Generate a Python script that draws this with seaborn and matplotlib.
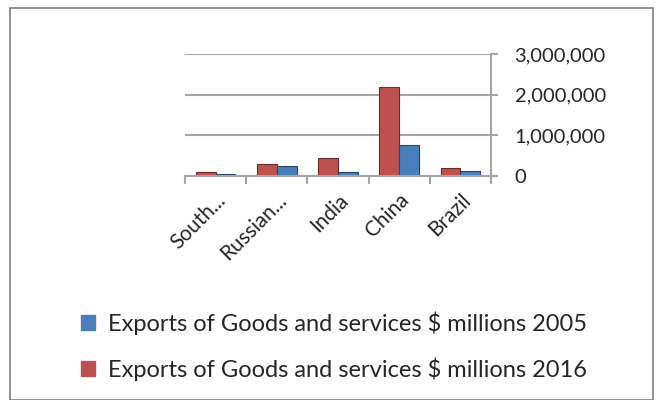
import matplotlib
matplotlib.use("Agg")
import matplotlib.pyplot as plt
import seaborn as sns
import pandas as pd
from matplotlib.patches import Patch, Rectangle
from matplotlib.ticker import FuncFormatter

countries = ["South...", "Russian...", "India", "China", "Brazil"]
exports_2005 = [52000, 243000, 100000, 762000, 118000]
exports_2016 = [90000, 285000, 436000, 2200000, 190000]
series_labels = ["Exports of Goods and services $ millions 2005",
                 "Exports of Goods and services $ millions 2016"]
yticks = [0, 1000000, 2000000, 3000000]

df = pd.DataFrame({
    "country": countries * 2,
    "value": exports_2016 + exports_2005,
    "series": [series_labels[1]] * 5 + [series_labels[0]] * 5,
})

sns.set_theme(style="white")
plt.rcParams["font.family"] = ["Lato", "DejaVu Sans"]

blue = "#4a7ebb"
red = "#c0504d"

fig = plt.figure(figsize=(6.61, 4.0), dpi=100)
ax = fig.add_axes([185/661, 1-176/400, 306/661, 122/400])

sns.barplot(data=df, x="country", y="value", hue="series",
            hue_order=[series_labels[1], series_labels[0]],
            palette=[red, blue], order=countries, width=0.65,
            saturation=1, ax=ax, legend=False)
for p in ax.patches:
    fc = p.get_facecolor()
    p.set_edgecolor(tuple(c * 0.55 for c in fc[:3]) + (1,))
    p.set_linewidth(0.8)

ax.set_xlim(-0.5, 4.5)
ax.set_ylim(0, 3000000)
ax.set_yticks(yticks)
ax.yaxis.tick_right()
ax.yaxis.set_major_formatter(FuncFormatter(lambda v, _: f"{int(v):,}"))
ax.grid(axis="y", color="#a6a6a6", linewidth=1.5)
ax.set_axisbelow(True)
for s in ["top", "left"]:
    ax.spines[s].set_visible(False)
ax.spines["right"].set_color("#a6a6a6")
ax.spines["right"].set_linewidth(1.5)
ax.spines["bottom"].set_color("#a6a6a6")
ax.spines["bottom"].set_linewidth(1.5)
ax.tick_params(axis="y", right=True, length=5, color="#a6a6a6", width=1.5,
               labelsize=14.5, pad=12)
ax.set_xticks([i - 0.5 for i in range(6)], minor=True)
ax.tick_params(axis="x", which="minor", bottom=True, length=6, color="#a6a6a6", width=1.5)
ax.tick_params(axis="x", which="major", bottom=False, labelsize=15, pad=4)
plt.setp(ax.get_xticklabels(), rotation=45, ha="right", rotation_mode="anchor")
ax.set_xlabel("")
ax.set_ylabel("")

handles = [Patch(facecolor=blue, edgecolor=blue), Patch(facecolor=red, edgecolor=red)]
fig.legend(handles, series_labels, loc="upper left", bbox_to_anchor=(0.108, 0.245),
           frameon=False, fontsize=17, handlelength=0.6, handleheight=0.6,
           handletextpad=0.55, labelspacing=0.95, borderaxespad=0)

fig.patches.append(Rectangle((10/661, 0), 643/661, 1-8/400, transform=fig.transFigure,
                             fill=False, edgecolor="#7f7f7f", linewidth=1.2))

fig.savefig("out.png", dpi=100)
